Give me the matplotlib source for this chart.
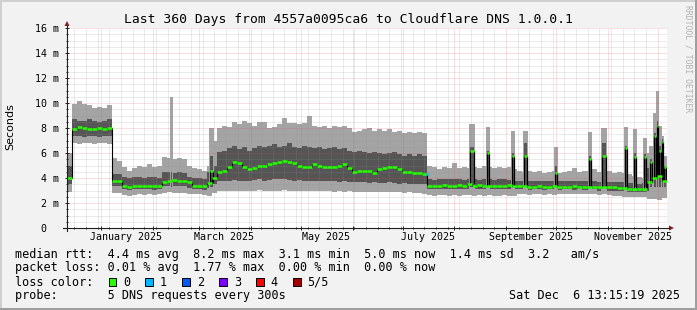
import datetime as dt
import matplotlib
matplotlib.use('Agg')
import matplotlib.pyplot as plt
import numpy as np
from matplotlib.lines import Line2D
from matplotlib.patches import Polygon, Rectangle

W, H = 697, 310
start = dt.datetime(2024, 12, 11, 13, 15, 19)   # graph start, 360 days before the stamp
span_days = 360
bin_days = 3                                      # one value every 3 days

# rtt in ms, one value per 3-day bin (120 bins)
median = [4.0, 7.9, 8.1, 8.0, 7.9, 7.9, 8.0, 7.9, 8.0, 3.75,
          3.75, 3.35, 3.3, 3.4, 3.35, 3.4, 3.4, 3.4, 3.35, 3.7,
          3.8, 3.85, 3.8, 3.8, 3.65, 3.4, 3.35, 3.35, 3.6, 4.0,
          4.5, 4.6, 4.9, 5.3, 5.2, 4.9, 4.7, 4.8, 5.0, 5.0,
          5.1, 5.2, 5.3, 5.4, 5.3, 5.2, 5.0, 4.9, 4.9, 5.1,
          5.0, 4.9, 4.9, 4.9, 5.0, 5.1, 4.8, 4.5, 4.6, 4.6,
          4.6, 4.4, 4.7, 4.8, 4.9, 4.9, 4.7, 4.5, 4.5, 4.4,
          4.4, 4.3, 3.4, 3.35, 3.4, 3.45, 3.4, 3.4, 3.45, 3.4,
          3.5, 3.4, 3.45, 3.4, 3.4, 3.35, 3.4, 3.4, 3.45, 3.4,
          3.35, 3.35, 3.3, 3.3, 3.35, 3.3, 3.3, 3.35, 3.3, 3.3,
          3.3, 3.35, 3.3, 3.3, 3.3, 3.3, 3.25, 3.3, 3.3, 3.25,
          3.2, 3.2, 3.15, 3.1, 3.1, 3.15, 3.7, 4.0, 4.2, 3.8]

light_top = [6.0, 9.9, 10.2, 9.9, 9.8, 9.6, 9.7, 9.6, 9.8, 5.6,
             5.4, 4.9, 4.6, 4.8, 5.0, 4.9, 5.1, 4.9, 5.0, 5.7,
             5.6, 5.5, 5.6, 5.5, 5.0, 4.8, 4.7, 4.6, 5.0, 7.0,
             8.0, 8.2, 8.1, 8.5, 8.3, 8.6, 8.4, 8.2, 8.5, 8.5,
             8.0, 8.1, 8.3, 8.8, 8.4, 8.4, 8.3, 8.4, 9.0, 8.2,
             8.1, 8.2, 8.0, 8.2, 8.1, 8.2, 8.0, 7.7, 7.8, 7.9,
             8.0, 7.8, 7.9, 7.8, 7.9, 7.7, 7.8, 7.6, 7.7, 7.6,
             7.7, 7.6, 5.0, 4.9, 4.7, 4.9, 4.8, 5.2, 4.8, 4.9,
             4.8, 4.9, 4.8, 5.0, 4.9, 4.8, 4.9, 4.8, 4.9, 4.7,
             4.6, 4.5, 4.6, 4.5, 4.6, 4.4, 4.5, 4.6, 4.4, 4.5,
             4.6, 4.8, 4.5, 4.6, 4.6, 4.7, 4.5, 4.6, 4.6, 4.4,
             4.5, 4.4, 4.3, 4.2, 4.1, 4.0, 6.0, 6.5, 6.8, 5.5]

dark_top = [5.0, 8.7, 8.6, 8.6, 8.7, 8.6, 8.5, 8.6, 8.7, 4.3,
            4.3, 4.1, 4.0, 4.1, 4.1, 4.0, 4.1, 4.1, 4.0, 4.5,
            4.5, 4.4, 4.5, 4.4, 4.1, 4.0, 4.0, 3.9, 4.5, 5.0,
            6.1, 6.2, 6.4, 6.6, 6.3, 6.5, 6.2, 6.4, 6.6, 6.5,
            6.6, 6.7, 6.5, 6.6, 6.8, 6.5, 6.4, 6.6, 6.5, 6.4,
            6.5, 6.3, 6.4, 6.5, 6.3, 6.4, 6.2, 6.1, 6.2, 6.1,
            6.0, 6.1, 6.0, 5.9, 6.0, 6.1, 5.9, 5.8, 5.9, 5.8,
            5.9, 5.8, 3.9, 3.85, 3.9, 3.95, 3.9, 3.9, 3.9, 3.85,
            3.9, 3.9, 3.85, 3.9, 3.9, 3.85, 3.9, 3.9, 3.85, 3.8,
            3.8, 3.75, 3.8, 3.8, 3.75, 3.8, 3.8, 3.75, 3.8, 3.75,
            3.8, 3.8, 3.75, 3.75, 3.8, 3.75, 3.7, 3.75, 3.7, 3.7,
            3.65, 3.65, 3.6, 3.6, 3.55, 3.6, 4.8, 5.0, 5.2, 4.5]

dark_bot = [3.5, 7.4, 7.4, 7.3, 7.4, 7.4, 7.3, 7.4, 7.4, 3.4,
            3.4, 3.1, 3.05, 3.1, 3.1, 3.1, 3.1, 3.05, 3.1, 3.35,
            3.4, 3.4, 3.35, 3.35, 3.2, 3.1, 3.1, 3.05, 3.2, 3.5,
            3.8, 3.75, 3.8, 3.85, 3.8, 3.75, 3.8, 3.85, 3.9, 3.8,
            3.85, 3.9, 3.95, 3.9, 3.85, 3.8, 3.85, 3.8, 3.75, 3.8,
            3.75, 3.8, 3.8, 3.75, 3.7, 3.75, 3.7, 3.65, 3.7, 3.65,
            3.6, 3.65, 3.6, 3.6, 3.65, 3.6, 3.55, 3.6, 3.55, 3.5,
            3.55, 3.5, 3.15, 3.15, 3.1, 3.15, 3.15, 3.1, 3.15, 3.15,
            3.15, 3.1, 3.15, 3.15, 3.1, 3.15, 3.15, 3.1, 3.15, 3.1,
            3.1, 3.1, 3.05, 3.1, 3.1, 3.05, 3.1, 3.1, 3.05, 3.1,
            3.1, 3.05, 3.1, 3.05, 3.05, 3.1, 3.0, 3.05, 3.0, 3.0,
            2.95, 2.95, 2.9, 2.85, 2.85, 2.9, 3.0, 3.1, 3.1, 3.0]

light_bot = [2.9, 6.8, 6.7, 6.8, 6.8, 6.7, 6.8, 6.8, 6.7, 2.8,
             2.8, 2.65, 2.6, 2.65, 2.7, 2.65, 2.7, 2.65, 2.7, 2.8,
             2.85, 2.8, 2.8, 2.8, 2.75, 2.7, 2.7, 2.65, 2.55, 2.8,
             3.0, 2.95, 3.0, 3.0, 2.95, 3.0, 2.95, 3.0, 3.05, 3.0,
             3.0, 2.95, 3.0, 3.05, 3.0, 2.95, 3.0, 2.95, 3.0, 2.95,
             2.95, 3.0, 2.95, 2.9, 2.95, 2.9, 2.95, 2.9, 2.85, 2.9,
             2.9, 2.85, 2.9, 2.9, 2.85, 2.9, 2.85, 2.8, 2.85, 2.8,
             2.8, 2.75, 2.65, 2.6, 2.65, 2.65, 2.6, 2.65, 2.6, 2.65,
             2.65, 2.6, 2.65, 2.6, 2.65, 2.6, 2.6, 2.65, 2.6, 2.6,
             2.7, 2.7, 2.65, 2.7, 2.7, 2.65, 2.7, 2.65, 2.7, 2.7,
             2.75, 2.7, 2.7, 2.75, 2.7, 2.7, 2.65, 2.7, 2.65, 2.6,
             2.55, 2.5, 2.5, 2.45, 2.45, 2.5, 2.3, 2.3, 2.25, 2.4]

# short spikes (day offset from start, width in days, values in ms)
spike_day = [62.4, 85.8, 241.8, 252.0, 267.0, 274.2, 292.8, 313.2, 321.0,
             334.8, 340.2, 346.2, 349.8, 352.2, 354.0, 355.2, 357.0, 358.2]
spike_width = [0.6, 1.8, 2.4, 1.2, 1.2, 1.8, 1.2, 1.2, 2.4,
               1.2, 1.2, 1.2, 1.2, 1.2, 0.6, 1.2, 0.6, 1.2]
spike_light = [10.5, 8.0, 8.3, 8.1, 7.8, 7.8, 6.5, 7.7, 8.0,
               8.1, 7.9, 7.2, 6.6, 9.2, 11.0, 8.2, 7.4, 5.8]
spike_dark = [4.5, 5.8, 6.5, 6.2, 6.0, 6.8, 5.0, 5.8, 6.8,
              6.6, 6.0, 5.9, 5.5, 7.6, 8.6, 6.6, 7.1, 5.0]
spike_med = [3.85, 4.6, 6.2, 6.0, 5.8, 5.8, 4.4, 5.5, 5.8,
             6.4, 5.7, 5.7, 5.3, 7.4, 8.2, 6.2, 6.9, 4.9]

# one sample with 1/5 loss
loss1_day = [215.4]
loss1_med = [4.3]

loss_labels = ['0', '1', '2', '3', '4', '5/5']
loss_colors = ['#26ff00', '#00b8ff', '#0059ff', '#7e00ff', '#ff0000', '#a10000']

month_labels = ['January 2025', 'March 2025', 'May 2025', 'July 2025',
                'September 2025', 'November 2025']
ytick_labels = ['0  ', '2 m', '4 m', '6 m', '8 m', '10 m', '12 m', '14 m', '16 m']

title = 'Last 360 Days from 4557a0095ca6 to Cloudflare DNS 1.0.0.1'
legend_lines = ['median rtt:  4.4 ms avg  8.2 ms max  3.1 ms min  5.0 ms now  1.4 ms sd  3.2   am/s',
                'packet loss: 0.01 % avg  1.77 % max  0.00 % min  0.00 % now',
                'loss color:',
                'probe:       5 DNS requests every 300s']
stamp = 'Sat Dec  6 13:15:19 2025'

LIGHT = '#a4a4a4'
DARK = '#555555'
MONO = 'DejaVu Sans Mono'


def days_to(d):
    return (d - start).total_seconds() / 86400.0


def fx(x):
    return x / W


def fy(y):
    return 1 - y / H


fig = plt.figure(figsize=(W / 100, H / 100), dpi=100, facecolor='#f2f2f2')
ax = fig.add_axes([fx(67), fy(228), 600 / W, 200 / H])
ax.set_facecolor('white')

edges = np.arange(len(median) + 1) * bin_days
ax.stairs(light_top, edges, baseline=light_bot, fill=True, color=LIGHT, lw=0, zorder=1)
ax.stairs(dark_top, edges, baseline=dark_bot, fill=True, color=DARK, lw=0, zorder=1.1)

# spikes: light smoke a little wider than the dark core
for d, w, lt, dk, md in zip(spike_day, spike_width, spike_light, spike_dark, spike_med):
    base = median[int(d // bin_days)]
    ax.bar(d - 0.6, lt - 3.0, width=w + 1.2, bottom=3.0, align='edge', color=LIGHT, lw=0, zorder=1.2)
    ax.bar(d, dk - 3.3, width=w, bottom=3.3, align='edge', color=DARK, lw=0, zorder=1.3)
    ax.vlines([d, d + w], base, md, color='black', lw=0.9, zorder=3)
    ax.hlines(md, d, d + w, color=loss_colors[0], lw=1.8, zorder=3.2)

ax.stairs(median, edges, baseline=None, color='black', lw=0.8, zorder=3)
ax.hlines(median, edges[:-1], edges[1:], color=loss_colors[0], lw=1.8, zorder=3.1)
ax.hlines(loss1_med, loss1_day, np.array(loss1_day) + 1.2, color=loss_colors[1], lw=1.8, zorder=3.3)

ax.set_xlim(0, span_days)
ax.set_ylim(0, 16)

# month / week grid
month_starts = [days_to(dt.datetime(2025, m, 1)) for m in range(1, 13)]
week_days = []
d = dt.datetime(2024, 12, 16)
while days_to(d) < span_days:
    week_days.append(days_to(d))
    d += dt.timedelta(days=7)
ax.set_xticks(month_starts)
ax.set_xticklabels([])
ax.set_xticks(week_days, minor=True)
ax.set_yticks(np.arange(0, 17, 2))
ax.set_yticklabels(ytick_labels, family=MONO, fontsize=7.2)
ax.set_yticks(np.arange(0, 16.01, 0.5), minor=True)
ax.tick_params(which='major', direction='inout', length=2.9, width=0.7, color='#1f1f1f', pad=4)
ax.tick_params(which='minor', direction='inout', length=1.5, width=0.7, color='#1f1f1f')

ax.set_axisbelow(False)
ax.grid(which='major', color='#e05050', alpha=0.35, lw=0.72, linestyle=(0, (1, 1)))
ax.grid(which='minor', color='#8f8f8f', alpha=0.35, lw=0.72, linestyle=(0, (1, 1)))
for s in ax.spines.values():
    s.set_visible(False)

for m, lab in zip(month_starts[0::2], month_labels):
    ax.text(m + 15, -0.0625, lab, transform=ax.get_xaxis_transform(), ha='center',
            va='baseline', family=MONO, fontsize=7.2)

# axes with arrows
fig.add_artist(Line2D([fx(67), fx(67)], [fy(231), fy(26)], color='#1f1f1f', lw=0.8))
fig.add_artist(Line2D([fx(63), fx(669)], [fy(228), fy(228)], color='#1f1f1f', lw=0.8))
fig.add_artist(Polygon([[fx(64.5), fy(26)], [fx(69.5), fy(26)], [fx(67), fy(21)]],
                       closed=True, color='#801f1f', lw=0))
fig.add_artist(Polygon([[fx(669), fy(225.5)], [fx(669), fy(230.5)], [fx(674), fy(228)]],
                       closed=True, color='#801f1f', lw=0))

# texts
fig.text(fx(348.5), fy(23.5), title, ha='center', va='baseline', family=MONO, fontsize=9.4)
fig.text(fx(10.5), fy(127), 'Seconds', rotation=90, ha='center', va='center',
         family='DejaVu Sans', fontsize=8)
fig.text(fx(688), fy(5), 'RRDTOOL / TOBI OETIKER', rotation=-90, ha='center', va='top',
         family=MONO, fontsize=5.8, color='#b0b0b0')

baselines = [258, 271.5, 285.5, 299]
for line, yb in zip(legend_lines, baselines):
    fig.text(fx(15), fy(yb), line, ha='left', va='baseline', family=MONO, fontsize=8.5)
fig.text(fx(680), fy(299), stamp, ha='right', va='baseline', family=MONO, fontsize=8.5)

for k, (lab, col) in enumerate(zip(loss_labels, loss_colors)):
    bx = 108.5 + 36.9 * k
    fig.add_artist(Rectangle((fx(bx), fy(286)), 7.5 / W, 8.5 / H, facecolor=col,
                             edgecolor='black', lw=0.7))
    fig.text(fx(bx + 14.5), fy(285.5), lab, ha='left', va='baseline', family=MONO, fontsize=8.5)

# 3d frame
fig.add_artist(Rectangle((0, 0), 1, 2 / H, color='#9e9e9e', lw=0))
fig.add_artist(Rectangle((1 - 2 / W, 0), 2 / W, 1, color='#9e9e9e', lw=0))
fig.add_artist(Rectangle((0, 1 - 2 / H), 1 - 2 / W, 2 / H, color='#cfcfcf', lw=0))
fig.add_artist(Rectangle((0, 2 / H), 2 / W, 1 - 2 / H, color='#cfcfcf', lw=0))

fig.savefig('out.png', dpi=100, facecolor=fig.get_facecolor())
